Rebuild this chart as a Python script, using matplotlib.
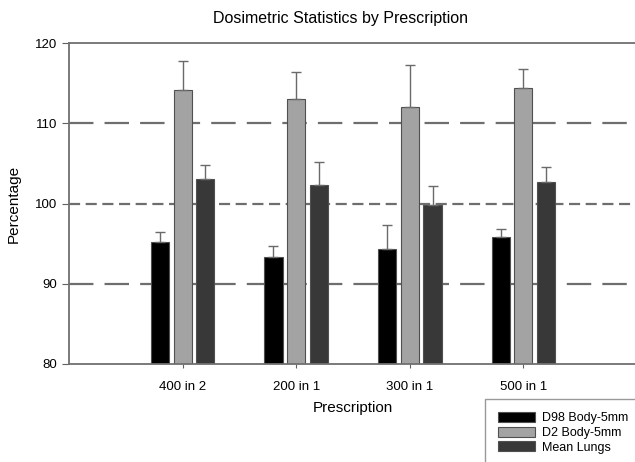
import numpy as np
import matplotlib
matplotlib.use("Agg")
from matplotlib import pyplot as plt

plt.rcParams['font.family'] = ['Liberation Sans', 'DejaVu Sans']

prescriptions = ['400 in 2', '200 in 1', '300 in 1', '500 in 1']
series_names = ['D98 Body-5mm', 'D2 Body-5mm', 'Mean Lungs']
d98 = [95.2, 93.3, 94.3, 95.8]
d2 = [114.2, 113.0, 112.0, 114.4]
lungs = [103.1, 102.3, 99.8, 102.7]
d98_err = [1.2, 1.4, 3.0, 1.0]
d2_err = [3.5, 3.4, 5.2, 2.4]
lungs_err = [1.7, 2.9, 2.4, 1.9]

colors = ['#000000', '#a3a3a3', '#383838']

fig = plt.figure(figsize=(6.35, 4.62), dpi=100)
ax = fig.add_axes([69 / 635, 1 - 364 / 462, 568 / 635, (364 - 43) / 462])

x = np.arange(1, len(prescriptions) + 1)
width = 0.16
offsets = [-0.2, 0.0, 0.2]

# reference lines behind the bars
ax.axhline(110, color='#6e6e6e', lw=1.6, dashes=(11, 5), zorder=1)
ax.axhline(100, color='#6e6e6e', lw=1.6, dashes=(5, 2.5), zorder=1)
ax.axhline(90, color='#6e6e6e', lw=1.6, dashes=(11, 5), zorder=1)

for vals, errs, col, off, name in zip([d98, d2, lungs], [d98_err, d2_err, lungs_err],
                                      colors, offsets, series_names):
    ax.bar(x + off, vals, width, bottom=0, color=col, edgecolor='#505050',
           linewidth=0.8, label=name, zorder=2)
    ax.errorbar(x + off, vals, yerr=[np.zeros(len(errs)), errs], fmt='none',
                ecolor='#6a6a6a', elinewidth=1.0, capsize=3.5, capthick=1.0, zorder=3)

ax.set_xlim(0, 5)
ax.set_ylim(80, 120)
ax.set_yticks([80, 90, 100, 110, 120])
ax.set_xticks(x)
ax.set_xticklabels(prescriptions, fontsize=9.5)
ax.tick_params(axis='y', labelsize=9.5, length=5, color='#606060', direction='out')
ax.tick_params(axis='x', length=3, color='#606060', direction='out', pad=9)

for side in ['left', 'bottom', 'top']:
    ax.spines[side].set_color('#707070')
    ax.spines[side].set_linewidth(1.3)
ax.spines['right'].set_visible(False)

ax.set_ylabel('Percentage', fontsize=11, labelpad=10)
ax.set_xlabel('Prescription', fontsize=11, labelpad=6)
fig.text(340 / 635, 1 - 18 / 462, 'Dosimetric Statistics by Prescription',
         ha='center', va='center', fontsize=11.5)

leg = fig.legend(loc='upper left', bbox_to_anchor=(479 / 635, 1 - 393 / 462),
                 fontsize=9, frameon=True, fancybox=False, handlelength=3.0,
                 handleheight=0.85, labelspacing=0.2, borderpad=1.0,
                 handletextpad=0.5)
leg.get_frame().set_edgecolor('#808080')
leg.get_frame().set_linewidth(1.0)

fig.savefig('out.png', dpi=100)
